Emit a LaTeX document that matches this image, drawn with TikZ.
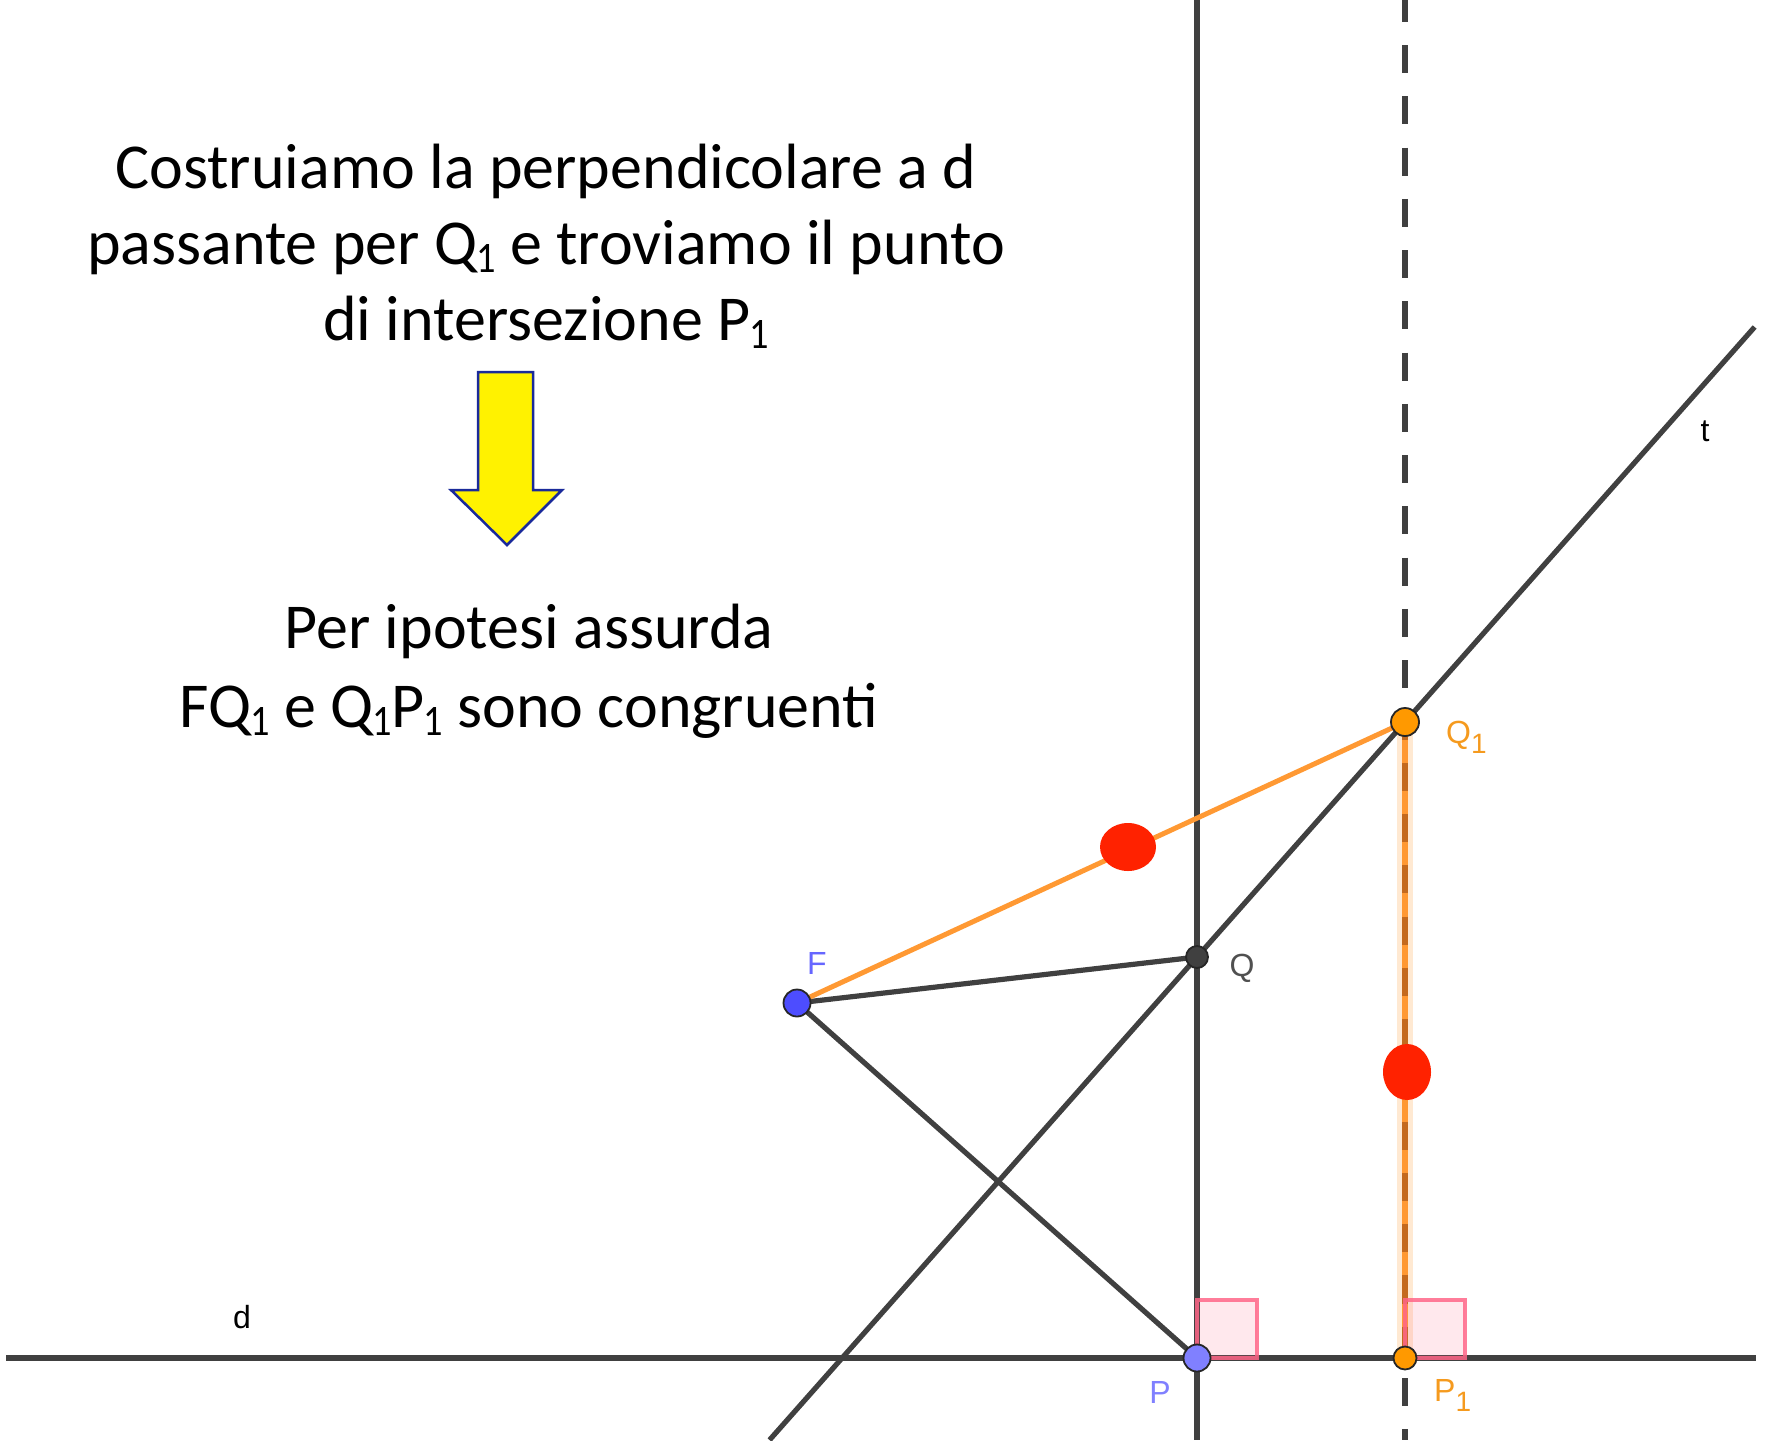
\documentclass[tikz,border=0pt]{standalone}
\usepackage{fontspec}
\setmainfont{Carlito}
\newfontfamily\ggfont{Liberation Sans}
\usetikzlibrary{calc}
\definecolor{lineg}{HTML}{404040}
\definecolor{segorange}{HTML}{FF9933}
\definecolor{ptorange}{HTML}{FF9900}
\definecolor{dashbrown}{HTML}{C46A1E}
\definecolor{fblue}{HTML}{4D4DFF}
\definecolor{pblue}{HTML}{8080FF}
\definecolor{labblue}{HTML}{6666FF}
\definecolor{labgray}{HTML}{505050}
\definecolor{labor}{HTML}{F59A1E}
\definecolor{pinkline}{HTML}{FF6688}
\definecolor{arrowblue}{HTML}{1A2A9A}
\definecolor{reddot}{HTML}{FF2200}
\newcommand\subone{\kern-0.02em\raisebox{-0.14em}{\scalebox{0.6}[0.68]{1}}}
\newcommand\ggsub[1]{#1\raisebox{-9.5pt}{\fontsize{28}{28}\selectfont 1}}
\tikzset{
  bigtxt/.style={inner sep=0pt, anchor=base, font=\fontsize{64}{76}\selectfont},
  geoline/.style={draw=lineg, line width=5.2pt},
  dashline/.style={line width=5.5pt, dash pattern=on 28pt off 23.27pt},
  ggpt/.style={circle, draw=black!85, line width=1.8pt, inner sep=0pt},
  gglab/.style={inner sep=0pt, font=\ggfont\fontsize{32}{32}\selectfont},
  rightang/.style={draw=pinkline, fill=pinkline, fill opacity=0.15, draw opacity=0.85, line width=3.8pt},
  arrowbox/.style={draw=arrowblue, fill=yellow, line width=2.5pt, line join=miter},
}
\begin{document}
\begin{tikzpicture}[x=1pt,y=-1pt]
\useasboundingbox (0,0) rectangle (1768,1440);
% geometry
\coordinate (F) at (797,1003);
\coordinate (Q) at (1197,957);
\coordinate (Q1) at (1405,722);
\coordinate (P) at (1197,1358);
\coordinate (P1) at (1405,1358);
\coordinate (dL) at (6,1358);
\coordinate (dR) at (1756,1358);
\coordinate (vTop) at (1197,0);
\coordinate (vBot) at (1197,1440);
\coordinate (wTop) at (1405,-6.27);
\coordinate (wBot) at (1405,1440);
\coordinate (tA) at ($(Q)!-2.0553!(Q1)$);
\coordinate (tB) at ($(Q)!2.6809!(Q1)$);

% text
\node[bigtxt] (l1) at (546,188) {Costruiamo la perpendicolare a d};
\node[bigtxt] (l2) at (546,264) {passante per Q\subone{} e troviamo il punto};
\node[bigtxt] (l3) at (546,340) {di intersezione P\subone};
\node[bigtxt] (l4) at (529,648) {Per ipotesi assurda};
\node[bigtxt] (l5) at (529,727) {FQ\subone{} e Q\subone P\subone{} sono congruenti};

% yellow arrow
\draw[arrowbox] (478,372) -- (533,372) -- (533,490) -- (562,490) -- (507,545) -- (451,490) -- (478,490) -- cycle;

% lines
\draw[geoline] (dL) -- (dR);
\draw[geoline] (vTop) -- (vBot);
\draw[geoline] (tA) -- (tB);
\draw[geoline] (F) -- (Q);
\draw[geoline] (F) -- (P);
\draw[dashline, draw=lineg] (wTop) -- (wBot);

% orange segments
\draw[segorange, line width=5pt] (F) -- (Q1);
\draw[segorange, opacity=0.22, line width=16pt] (Q1) -- (P1);
\draw[segorange, line width=6pt] (Q1) -- (P1);
\begin{scope}
  \clip (1380,722) rectangle (1430,1358);
  \draw[dashline, draw=dashbrown] (wTop) -- (wBot);
\end{scope}

% right angles
\draw[rightang] (1197,1300) rectangle (1257,1358);
\draw[rightang] (1405,1300) rectangle (1465,1358);

% red marks
\fill[reddot] (1128,847) ellipse (28pt and 24pt);
\fill[reddot] (1407,1072) ellipse (24pt and 28pt);

% points
\node[ggpt, fill=fblue, minimum size=27pt] (nF) at (F) {};
\node[ggpt, fill=lineg, minimum size=22pt] (nQ) at (Q) {};
\node[ggpt, fill=ptorange, minimum size=28pt] (nQ1) at (Q1) {};
\node[ggpt, fill=pblue, minimum size=27pt] (nP) at (P) {};
\node[ggpt, fill=ptorange, minimum size=23pt] (nP1) at (P1) {};

% labels
\node[gglab, text=labblue] (labF) at (817,963) {F};
\node[gglab, text=labgray] (labQ) at (1242,968) {Q};
\node[gglab, text=labor, anchor=base west] (labQ1) at (1446,743.5) {\ggsub{Q}};
\node[gglab, text=pblue] (labP) at (1160,1392) {P};
\node[gglab, text=labor, anchor=base west] (labP1) at (1434,1401.5) {\ggsub{P}};
\node[gglab, text=black] (labt) at (1705,431) {t};
\node[gglab, text=black] (labd) at (242,1317) {d};
\end{tikzpicture}
\end{document}
